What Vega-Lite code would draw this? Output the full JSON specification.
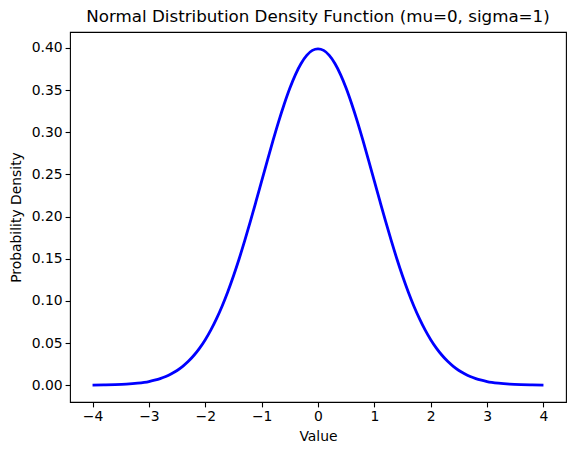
{
  "$schema": "https://vega.github.io/schema/vega-lite/v6.json",
  "width": 496,
  "height": 370,
  "autosize": "none",
  "padding": {"left": 70, "top": 32, "right": 10, "bottom": 53},
  "background": "white",
  "view": {"stroke": "black", "strokeWidth": 1.1},
  "title": {
    "text": "Normal Distribution Density Function (mu=0, sigma=1)",
    "font": "DejaVu Sans",
    "fontSize": 16.7,
    "fontWeight": "normal",
    "color": "black",
    "anchor": "middle",
    "offset": 6
  },
  "data": {
    "values": [
      {"x": -4.0, "y": 0.0001}, {"x": -3.8, "y": 0.0003}, {"x": -3.6, "y": 0.0006},
      {"x": -3.4, "y": 0.0012}, {"x": -3.2, "y": 0.0024}, {"x": -3.0, "y": 0.0044},
      {"x": -2.9, "y": 0.0060}, {"x": -2.8, "y": 0.0079}, {"x": -2.7, "y": 0.0104},
      {"x": -2.6, "y": 0.0136}, {"x": -2.5, "y": 0.0175}, {"x": -2.4, "y": 0.0224},
      {"x": -2.3, "y": 0.0283}, {"x": -2.2, "y": 0.0355}, {"x": -2.1, "y": 0.0440},
      {"x": -2.0, "y": 0.0540}, {"x": -1.9, "y": 0.0656}, {"x": -1.8, "y": 0.0790},
      {"x": -1.7, "y": 0.0940}, {"x": -1.6, "y": 0.1109}, {"x": -1.5, "y": 0.1295},
      {"x": -1.4, "y": 0.1497}, {"x": -1.3, "y": 0.1714}, {"x": -1.2, "y": 0.1942},
      {"x": -1.1, "y": 0.2179}, {"x": -1.0, "y": 0.2420}, {"x": -0.9, "y": 0.2661},
      {"x": -0.8, "y": 0.2897}, {"x": -0.7, "y": 0.3123}, {"x": -0.6, "y": 0.3332},
      {"x": -0.5, "y": 0.3521}, {"x": -0.4, "y": 0.3683}, {"x": -0.3, "y": 0.3814},
      {"x": -0.2, "y": 0.3910}, {"x": -0.1, "y": 0.3970}, {"x": 0.0, "y": 0.3989},
      {"x": 0.1, "y": 0.3970}, {"x": 0.2, "y": 0.3910}, {"x": 0.3, "y": 0.3814},
      {"x": 0.4, "y": 0.3683}, {"x": 0.5, "y": 0.3521}, {"x": 0.6, "y": 0.3332},
      {"x": 0.7, "y": 0.3123}, {"x": 0.8, "y": 0.2897}, {"x": 0.9, "y": 0.2661},
      {"x": 1.0, "y": 0.2420}, {"x": 1.1, "y": 0.2179}, {"x": 1.2, "y": 0.1942},
      {"x": 1.3, "y": 0.1714}, {"x": 1.4, "y": 0.1497}, {"x": 1.5, "y": 0.1295},
      {"x": 1.6, "y": 0.1109}, {"x": 1.7, "y": 0.0940}, {"x": 1.8, "y": 0.0790},
      {"x": 1.9, "y": 0.0656}, {"x": 2.0, "y": 0.0540}, {"x": 2.1, "y": 0.0440},
      {"x": 2.2, "y": 0.0355}, {"x": 2.3, "y": 0.0283}, {"x": 2.4, "y": 0.0224},
      {"x": 2.5, "y": 0.0175}, {"x": 2.6, "y": 0.0136}, {"x": 2.7, "y": 0.0104},
      {"x": 2.8, "y": 0.0079}, {"x": 2.9, "y": 0.0060}, {"x": 3.0, "y": 0.0044},
      {"x": 3.2, "y": 0.0024}, {"x": 3.4, "y": 0.0012}, {"x": 3.6, "y": 0.0006},
      {"x": 3.8, "y": 0.0003}, {"x": 4.0, "y": 0.0001}
    ]
  },
  "mark": {"type": "line", "color": "blue", "strokeWidth": 2.8, "interpolate": "monotone"},
  "encoding": {
    "x": {
      "field": "x",
      "type": "quantitative",
      "title": "Value",
      "scale": {"domain": [-4.4, 4.4], "nice": false, "zero": false},
      "axis": {"values": [-4, -3, -2, -1, 0, 1, 2, 3, 4], "format": "d"}
    },
    "y": {
      "field": "y",
      "type": "quantitative",
      "title": "Probability Density",
      "scale": {"domain": [-0.0199, 0.4188], "nice": false, "zero": false},
      "axis": {"values": [0, 0.05, 0.1, 0.15, 0.2, 0.25, 0.3, 0.35, 0.4], "format": ".2f"}
    }
  },
  "config": {
    "font": "DejaVu Sans",
    "axis": {
      "grid": false,
      "domain": false,
      "tickColor": "black",
      "tickWidth": 1.1,
      "tickSize": 4.9,
      "labelFont": "DejaVu Sans",
      "labelFontSize": 13.9,
      "labelColor": "black",
      "labelPadding": 3,
      "titleFont": "DejaVu Sans",
      "titleFontSize": 13.9,
      "titleFontWeight": "normal",
      "titleColor": "black"
    },
    "axisX": {"titlePadding": 6},
    "axisY": {"titlePadding": 8}
  }
}
